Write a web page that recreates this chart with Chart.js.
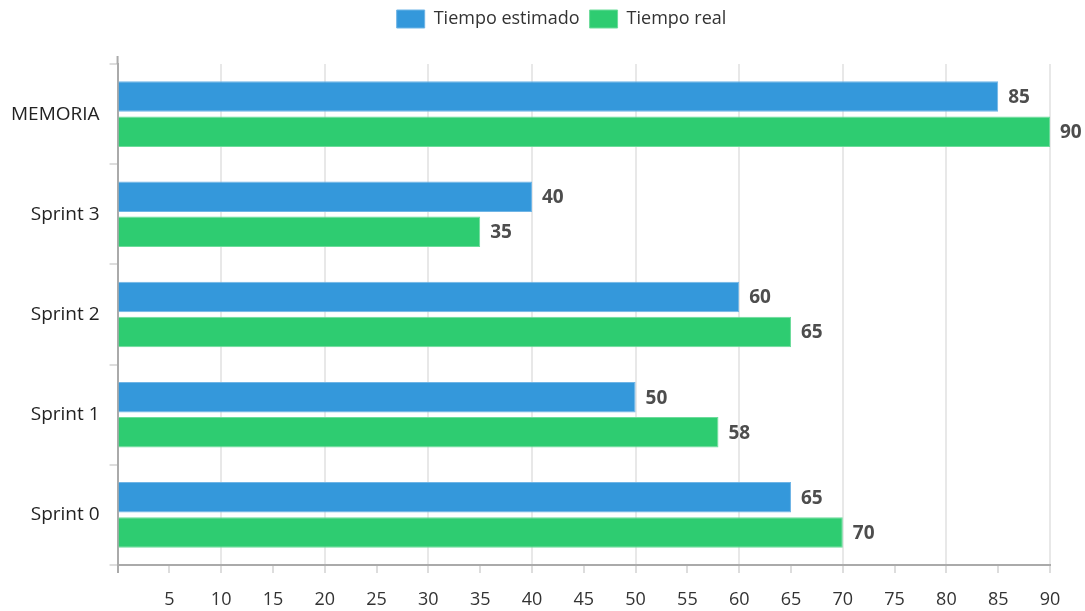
<!DOCTYPE html>
<html>
<head>
<meta charset="utf-8">
<script src="https://cdn.jsdelivr.net/npm/chart.js@4/dist/chart.umd.min.js"></script>
<style>
  body { margin: 0; background: #fff; }
  #wrap { width: 1085px; height: 611px; position: relative; }
</style>
</head>
<body>
<div id="wrap"><canvas id="myChart"></canvas></div>
<script>
const categories = ["MEMORIA", "Sprint 3", "Sprint 2", "Sprint 1", "Sprint 0"];
const estimado = [85, 40, 60, 50, 65];
const real = [90, 35, 65, 58, 70];

// draws the value next to the end of each bar
const valueLabels = {
  id: "valueLabels",
  afterDatasetsDraw(chart) {
    const c = chart.ctx;
    c.save();
    c.font = "bold 19px 'Open Sans'";
    c.fillStyle = "#4d4d4d";
    c.textBaseline = "middle";
    c.textAlign = "left";
    chart.data.datasets.forEach((ds, i) => {
      chart.getDatasetMeta(i).data.forEach((bar, j) => {
        c.fillText(ds.data[j], bar.x + 10, bar.y + 1);
      });
    });
    // y axis line runs a little above the plot
    const a = chart.chartArea;
    c.strokeStyle = "#aaaaaa";
    c.lineWidth = 2;
    c.beginPath();
    c.moveTo(a.left, a.top - 8);
    c.lineTo(a.left, a.top);
    c.stroke();
    c.restore();
  },
};

// extra room under the legend, legend nudged right
const legendGap = {
  id: "legendGap",
  beforeInit(chart) {
    const fit = chart.legend.fit;
    chart.legend.fit = function () {
      fit.bind(chart.legend)();
      this.height += 26;
    };
  },
  afterUpdate(chart) {
    chart.legend.left += 36;
    chart.legend.right += 36;
  },
};

const ctx = document.getElementById("myChart");
new Chart(ctx, {
  type: "bar",
  data: {
    labels: categories,
    datasets: [
      {
        label: "Tiempo estimado",
        data: estimado,
        backgroundColor: "#3498db",
        borderColor: "#6fb5e6",
        borderWidth: 1,
      },
      {
        label: "Tiempo real",
        data: real,
        backgroundColor: "#2ecc71",
        borderColor: "#6ddc9b",
        borderWidth: 1,
      },
    ],
  },
  options: {
    indexAxis: "y",
    responsive: true,
    maintainAspectRatio: false,
    animation: false,
    barPercentage: 0.87,
    categoryPercentage: 0.7,
    layout: { padding: { left: 1, right: 35, top: 0, bottom: 0 } },
    plugins: {
      tooltip: { enabled: false },
      legend: {
        position: "top",
        labels: {
          boxWidth: 28,
          boxHeight: 18,
          padding: 10,
          color: "#333",
          font: { family: "'Open Sans'", size: 18 },
        },
      },
    },
    scales: {
      x: {
        min: 0,
        max: 90,
        afterFit: (scale) => {
          scale.height = 46;
        },
        ticks: {
          stepSize: 5,
          color: "#333",
          padding: 16,
          font: { family: "'Open Sans'", size: 18 },
          callback: (v) => (v === 0 ? "" : v),
        },
        grid: {
          color: (c) =>
            c.tick && c.tick.value % 10 === 0 && c.tick.value !== 0
              ? "#e8e8e8"
              : "rgba(0,0,0,0)",
          tickColor: (c) => (c.tick && c.tick.value === 0 ? "#aaaaaa" : "#dddddd"),
          tickLength: 8,
          lineWidth: 2,
        },
        border: { color: "#aaaaaa", width: 2 },
      },
      y: {
        ticks: {
          color: "#222",
          padding: 10,
          font: { family: "'Open Sans'", size: 19 },
        },
        grid: {
          drawOnChartArea: false,
          tickLength: 8,
          color: "#dddddd",
          lineWidth: 2,
        },
        border: { color: "#aaaaaa", width: 2 },
      },
    },
  },
  plugins: [valueLabels, legendGap],
});
</script>
</body>
</html>
